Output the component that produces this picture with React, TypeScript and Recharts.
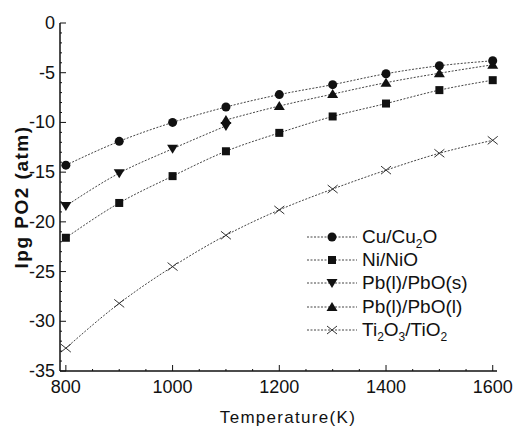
import React from 'react';
import { LineChart, Line, XAxis, YAxis, Legend } from 'recharts';

const temps = [800, 900, 1000, 1100, 1200, 1300, 1400, 1500, 1600];
const cuCuO = [-14.3, -11.9, -10.0, -8.45, -7.2, -6.2, -5.1, -4.3, -3.8];
const niNiO = [-21.6, -18.1, -15.4, -12.9, -11.05, -9.4, -8.1, -6.75, -5.75];
const pbPbOs = [-18.4, -15.1, -12.65, -10.35, null, null, null, null, null];
const pbPbOl = [null, null, null, -9.75, -8.35, -7.15, -6.0, -5.05, -4.2];
const tiO = [-32.7, -28.2, -24.5, -21.35, -18.8, -16.7, -14.8, -13.1, -11.8];

const xMajor = [800, 1000, 1200, 1400, 1600];
const yMajor = [0, -5, -10, -15, -20, -25, -30, -35];

const xTicks: number[] = [];
for (let t = 800; t <= 1600; t += 50) xTicks.push(t);
const yTicks: number[] = [];
for (let v = 0; v >= -35; v -= 1) yTicks.push(v);

const series = [
  { key: 'cu', name: 'Cu/Cu2O', shape: 'circle' },
  { key: 'ni', name: 'Ni/NiO', shape: 'square' },
  { key: 'pbs', name: 'Pb(l)/PbO(s)', shape: 'down' },
  { key: 'pbl', name: 'Pb(l)/PbO(l)', shape: 'up' },
  { key: 'ti', name: 'Ti2O3/TiO2', shape: 'cross' },
];

const data = temps.map((t, i) => ({
  t,
  cu: cuCuO[i],
  ni: niNiO[i],
  pbs: pbPbOs[i],
  pbl: pbPbOl[i],
  ti: tiO[i],
}));

const FONT = '"Liberation Sans", Arial, sans-serif';
const INK = '#111';

const Marker = ({ cx, cy, shape }: any) => {
  if (cx == null || cy == null) return <g />;
  switch (shape) {
    case 'circle':
      return <circle cx={cx} cy={cy} r={4.5} fill={INK} />;
    case 'square':
      return <rect x={cx - 4} y={cy - 4} width={8} height={8} fill={INK} />;
    case 'down':
      return <polygon points={`${cx - 5.5},${cy - 4} ${cx + 5.5},${cy - 4} ${cx},${cy + 5}`} fill={INK} />;
    case 'up':
      return <polygon points={`${cx - 5.5},${cy + 4} ${cx + 5.5},${cy + 4} ${cx},${cy - 5}`} fill={INK} />;
    default:
      return (
        <g stroke="#333" strokeWidth={1}>
          <line x1={cx - 5} y1={cy - 4} x2={cx + 5} y2={cy + 4} />
          <line x1={cx - 5} y1={cy + 4} x2={cx + 5} y2={cy - 4} />
        </g>
      );
  }
};

const BottomTick = ({ x, y, payload }: any) => {
  const major = xMajor.includes(payload.value);
  return (
    <g>
      <line x1={x} y1={y} x2={x} y2={y - (major ? 6 : 2)} stroke={INK} />
      {major && (
        <text x={x} y={y + 22} textAnchor="middle" fontSize={18} fontFamily={FONT} fill={INK}>
          {payload.value}
        </text>
      )}
    </g>
  );
};

const TopTick = ({ x, y, payload }: any) => {
  const major = xMajor.includes(payload.value);
  return <line x1={x} y1={y} x2={x} y2={y + (major ? 6 : 2)} stroke={INK} />;
};

const LeftTick = ({ x, y, payload }: any) => {
  const major = yMajor.includes(payload.value);
  return (
    <g>
      <line x1={x} y1={y} x2={x + (major ? 6 : 2)} y2={y} stroke={INK} />
      {major && (
        <text x={x - 5} y={y + 6} textAnchor="end" fontSize={18} fontFamily={FONT} fill={INK}>
          {payload.value}
        </text>
      )}
    </g>
  );
};

const RightTick = ({ x, y, payload }: any) => {
  const major = yMajor.includes(payload.value);
  return <line x1={x} y1={y} x2={x - (major ? 6 : 2)} y2={y} stroke={INK} />;
};

const subStyle = { fontSize: 12, verticalAlign: 'sub', lineHeight: 0 } as const;

// legend label with chemical subscripts
const LegendLabel = ({ k, name }: { k: string; name: string }) => {
  if (k === 'cu')
    return (
      <>
        Cu/Cu<span style={subStyle}>2</span>O
      </>
    );
  if (k === 'ti')
    return (
      <>
        Ti<span style={subStyle}>2</span>O<span style={subStyle}>3</span>/TiO<span style={subStyle}>2</span>
      </>
    );
  return <>{name}</>;
};

const LegendBox = () => (
  <div style={{ fontFamily: FONT, fontSize: 19, color: INK }}>
    {series.map((s) => (
      <div key={s.key} style={{ display: 'flex', alignItems: 'center', height: 23.3 }}>
        <svg width={52} height={16} style={{ marginRight: 3 }}>
          <line x1={0} y1={8} x2={50} y2={8} stroke="#444" strokeDasharray="2 1.5" />
          <Marker cx={25} cy={8} shape={s.shape} />
        </svg>
        <span style={{ whiteSpace: 'nowrap', lineHeight: '20px' }}>
          <LegendLabel k={s.key} name={s.name} />
        </span>
      </div>
    ))}
  </div>
);

export default function App() {
  return (
    <div style={{ position: 'absolute', left: 0, top: 0, background: '#fff' }}>
      <LineChart width={520} height={428} data={data} margin={{ top: 23, right: 23, left: 0, bottom: 0 }}>
        <XAxis
          xAxisId="b"
          dataKey="t"
          type="number"
          domain={[789, 1608]}
          ticks={xTicks}
          interval={0}
          height={57}
          tickSize={0}
          tickMargin={0}
          tickLine={false}
          axisLine={{ stroke: INK, strokeWidth: 1.5 }}
          tick={<BottomTick />}
          label={{
            content: ({ viewBox }: any) => (
              <text x={viewBox.x + 228} y={viewBox.y + 52} textAnchor="middle" fontSize={17} fontFamily={FONT} fill={INK} letterSpacing={1.3}>
                Temperature(K)
              </text>
            ),
          }}
        />
        <XAxis
          xAxisId="t"
          orientation="top"
          dataKey="t"
          type="number"
          domain={[789, 1608]}
          ticks={xTicks}
          interval={0}
          height={0}
          tickSize={0}
          tickMargin={0}
          tickLine={false}
          axisLine={{ stroke: INK, strokeWidth: 1.5 }}
          tick={<TopTick />}
        />
        <YAxis
          yAxisId="l"
          type="number"
          domain={[-35, 0]}
          ticks={yTicks}
          interval={0}
          width={60}
          tickSize={0}
          tickMargin={0}
          tickLine={false}
          axisLine={{ stroke: INK, strokeWidth: 1.5 }}
          tick={<LeftTick />}
          label={{
            content: ({ viewBox }: any) => {
              const cx = viewBox.x + 21;
              const cy = viewBox.y + viewBox.height / 2;
              return (
                <text
                  x={cx}
                  y={cy}
                  transform={`rotate(-90 ${cx} ${cy})`}
                  textAnchor="middle"
                  dominantBaseline="central"
                  fontSize={19}
                  fontWeight="bold"
                  fontFamily={FONT}
                  fill={INK}
                  letterSpacing={1.5}
                >
                  lpg PO2 (atm)
                </text>
              );
            },
          }}
        />
        <YAxis
          yAxisId="r"
          orientation="right"
          type="number"
          domain={[-35, 0]}
          ticks={yTicks}
          interval={0}
          width={0}
          tickSize={0}
          tickMargin={0}
          tickLine={false}
          axisLine={{ stroke: INK, strokeWidth: 1.5 }}
          tick={<RightTick />}
        />
        <Legend
          layout="vertical"
          align="center"
          verticalAlign="middle"
          content={<LegendBox />}
          wrapperStyle={{ position: 'absolute', left: 307, top: 225, width: 205 }}
        />
        {series.map((s) => (
          <Line
            key={s.key}
            xAxisId="b"
            yAxisId="l"
            dataKey={s.key}
            name={s.name}
            type="monotone"
            stroke="#444"
            strokeWidth={1}
            strokeDasharray="2 1.5"
            isAnimationActive={false}
            dot={(p: any) => <Marker key={`${s.key}-${p.index}`} cx={p.cx} cy={p.cy} shape={s.shape} />}
            activeDot={false}
          />
        ))}
      </LineChart>
    </div>
  );
}
